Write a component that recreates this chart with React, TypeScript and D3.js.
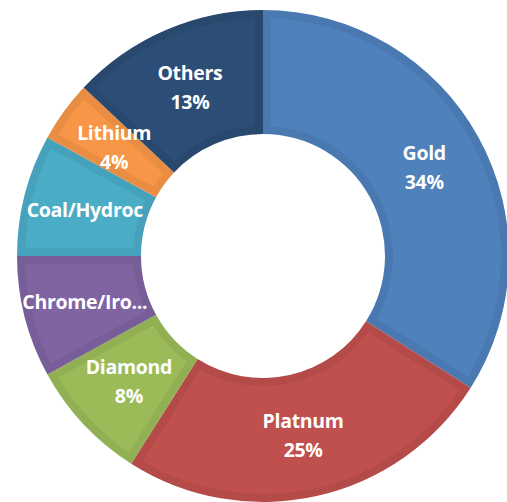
import React from "react";
import * as d3 from "d3";

const categories = ["Gold", "Platnum", "Diamond", "Chrome/Iron", "Coal/Hydrocarbons", "Lithium", "Others"];
const values = [34, 25, 8, 8, 8, 4, 13];
const labelNames = ["Gold", "Platnum", "Diamond", "Chrome/Iro...", "Coal/Hydroc", "Lithium", "Others"];
const showPercent = [true, true, true, false, false, true, true];
const colors = ["#4F81BD", "#C0504D", "#9BBB59", "#8064A2", "#4BACC6", "#F79646", "#2C4D75"];

const W = 507;
const H = 502;
const CX = 263;
const CY = 256;
const R = 246;
const RI = 122;
const FS = 19.5;

export default function App() {
  const pie = d3.pie<number>().sort(null).value((d) => d);
  const arcs = pie(values);
  const outer = d3.arc<d3.PieArcDatum<number>>().innerRadius(RI).outerRadius(R);
  const inner = d3
    .arc<d3.PieArcDatum<number>>()
    .innerRadius(RI + 8)
    .outerRadius(R - 8)
    .padRadius(100)
    .padAngle(0.16);
  const labelArc = d3.arc<d3.PieArcDatum<number>>().innerRadius(RI).outerRadius(R);
  const ring = d3.arc()({ innerRadius: RI, outerRadius: R, startAngle: 0, endAngle: Math.PI * 2 }) as string;

  return (
    <svg
      width={W}
      height={H}
      style={{ position: "absolute", left: 0, top: 0, display: "block" }}
      fontFamily="'Open Sans', sans-serif"
    >
      <defs>
        <clipPath id="ringclip">
          <path d={ring} transform={`translate(${CX},${CY})`} />
        </clipPath>
      </defs>
      <rect width={W} height={H} fill="#fff" />
      <g transform={`translate(${CX},${CY})`}>
        {arcs.map((a, i) => {
          const base = d3.color(colors[i])!;
          const dark = base.darker(0.18).formatHex();
          return (
            <g key={categories[i]}>
              <path d={outer(a) as string} fill={dark} />
              <path d={inner({ ...a, padAngle: 0 }) as string} fill={colors[i]} />
            </g>
          );
        })}
      </g>
      <g clipPath="url(#ringclip)">
        <g transform={`translate(${CX},${CY})`}>
          {arcs.map((a, i) => {
            const [x, y] = labelArc.centroid(a);
            const two = showPercent[i];
            const pct = Math.round((values[i] / d3.sum(values)) * 100) + "%";
            return (
              <text
                key={categories[i]}
                x={x}
                y={y}
                fill="#fff"
                fontSize={FS}
                fontWeight="bold"
                textAnchor="middle"
                letterSpacing={-0.3}
              >
                {two ? (
                  <>
                    <tspan x={x} dy={-7.5}>
                      {labelNames[i]}
                    </tspan>
                    <tspan x={x} dy={29}>
                      {pct}
                    </tspan>
                  </>
                ) : (
                  <tspan x={x} dy={7}>
                    {labelNames[i]}
                  </tspan>
                )}
              </text>
            );
          })}
        </g>
      </g>
    </svg>
  );
}
